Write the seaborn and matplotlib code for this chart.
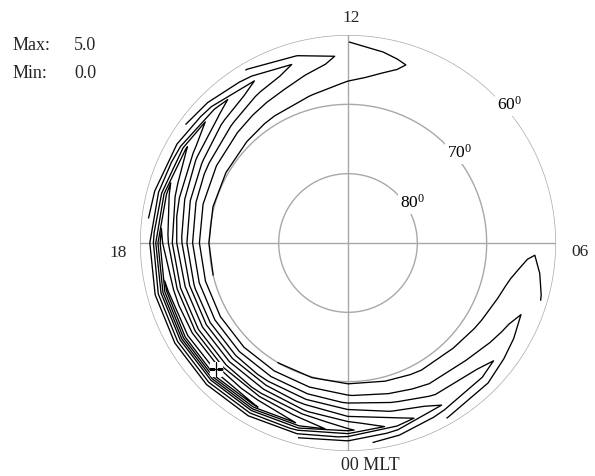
import numpy as np
import matplotlib
matplotlib.use("Agg")
import matplotlib.pyplot as plt
import seaborn as sns

# ---- data ----
mlt_hours = list(range(24))
# field value along the ridge (about 63 deg latitude), per MLT hour
ridge_values = [3.35, 2.55, 1.75, 1.45, 0.95, 0.55, 0.15, 0.05, 0.0, 0.0, 0.05, 0.30,
                0.60, 1.15, 1.75, 2.50, 3.30, 3.90, 4.40, 4.85, 4.95, 5.00, 4.80, 4.20]
latitudes = [61, 62, 63, 64, 65, 66, 67, 68, 69, 70]
# latitude profile relative to ridge value
lat_profile = [0.42, 0.64, 1.00, 0.87, 0.67, 0.52, 0.36, 0.23, 0.125, 0.052]
levels = [0.25, 0.75, 1.25, 1.75, 2.25, 2.75, 3.25, 3.75, 4.25, 4.75]
max_value = 5.0
min_value = 0.0
peak_mlt = 20.9
peak_lat = 63.7
grid_lats = [80, 70, 60]
hour_labels = ["12", "18", "06", "00 MLT"]

# ---- style ----
sns.set_theme(style="white")
plt.rcParams['font.family'] = ['Liberation Serif', 'DejaVu Serif']
plt.rcParams['mathtext.fontset'] = 'custom'
plt.rcParams['mathtext.rm'] = 'Liberation Serif'
plt.rcParams['mathtext.it'] = 'Liberation Serif'

W, H = 595, 476
fig = plt.figure(figsize=(W / 100, H / 100), dpi=100)
ax = fig.add_axes([0.2353, 0.0525, 0.6992, 0.874], projection='polar')
ax.set_theta_zero_location('S')
ax.set_theta_direction(1)
ax.set_ylim(0, 30)
ax.grid(False)
ax.set_xticks([])
ax.set_yticks([])
ax.spines['polar'].set_visible(False)
ax.set_facecolor('white')

gray = '#a8a8a8'
th = np.linspace(0, 2 * np.pi, 400)
for lat in grid_lats:
    ax.plot(th, np.full_like(th, 90 - lat), color=gray, lw=1.0, zorder=1)
ax.plot([0, np.pi], [30, 30], color=gray, lw=1.0, zorder=1)
ax.plot([np.pi / 2, 3 * np.pi / 2], [30, 30], color=gray, lw=1.0, zorder=1)

# ---- contour field ----
mlt_cols = np.array(mlt_hours + [24], dtype=float)
ridge = np.array(ridge_values + [ridge_values[0]])
prof = np.array(lat_profile)
Z = np.outer(prof, ridge)
TH, R = np.meshgrid(mlt_cols * np.pi / 12, 90 - np.array(latitudes, dtype=float))
ax.contour(TH, R, Z, levels=levels, colors='black', linewidths=0.95, zorder=3)

# maximum marker with a small white clearing
ax.plot([peak_mlt * np.pi / 12], [90 - peak_lat], marker='s', color='white',
        ms=8, zorder=4, linestyle='none')
ax.plot([peak_mlt * np.pi / 12], [90 - peak_lat], marker='+', color='black',
        ms=10, mew=0.9, zorder=5, linestyle='none')

def px(x, y):
    return x / W, 1 - y / H

# ---- latitude labels ----
lab_xy = {80: (413, 203), 70: (460, 153), 60: (510, 105)}
for lat in grid_lats:
    x, y = lab_xy[lat]
    fig.text(*px(x, y), f"{lat}$^{{0}}$", ha='center', va='center',
             fontsize=12.5, color='black', zorder=6,
             bbox=dict(boxstyle='square,pad=0.12', fc='white', ec='none'))

# ---- hour labels ----
fs = 12.5
fig.text(*px(351, 18), hour_labels[0], ha='center', va='center', fontsize=fs)
fig.text(*px(118, 253), hour_labels[1], ha='center', va='center', fontsize=fs)
fig.text(*px(579.5, 252), hour_labels[2], ha='center', va='center', fontsize=fs)
fig.text(*px(341, 466), hour_labels[3], ha='left', va='center', fontsize=13)

fs2 = 13
fig.text(*px(13, 46), "Max:", ha='left', va='center', fontsize=fs2)
fig.text(*px(74, 46), f"{max_value:.1f}", ha='left', va='center', fontsize=fs2)
fig.text(*px(13, 74), "Min:", ha='left', va='center', fontsize=fs2)
fig.text(*px(74, 74), f"{min_value:.1f}", ha='left', va='center', fontsize=fs2)

fig.savefig("out.png", dpi=100, facecolor='white')
